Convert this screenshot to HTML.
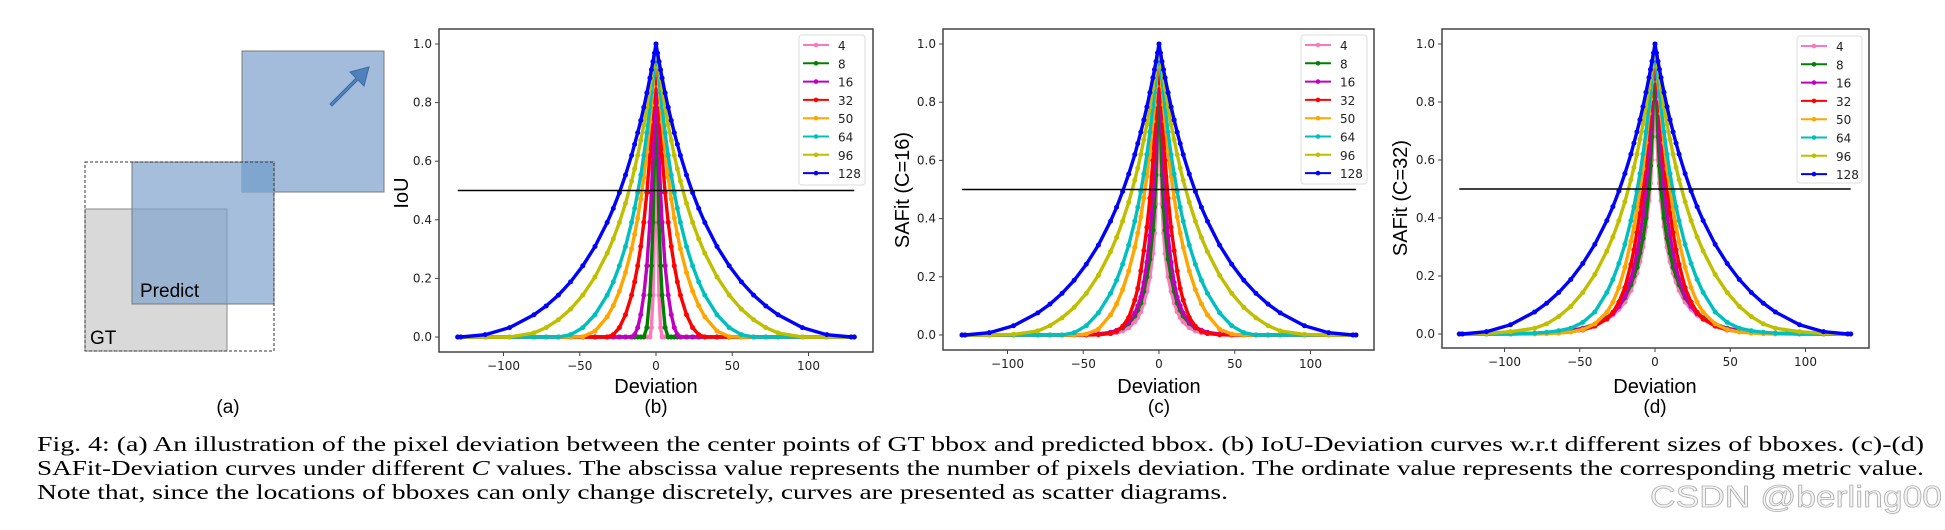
<!DOCTYPE html>
<html><head><meta charset="utf-8"><style>
html,body{margin:0;padding:0;background:#fff;}
svg{display:block;}
.tk{font-family:"DejaVu Sans",sans-serif;font-size:12px;fill:#222;}
.lab{font-family:"Liberation Sans","DejaVu Sans",sans-serif;font-size:20px;fill:#000;}
.cap{font-family:"Liberation Serif",serif;font-size:21px;fill:#000;}
</style></head><body>
<svg id="fig" width="1945" height="530" viewBox="0 0 1945 530" xmlns="http://www.w3.org/2000/svg">
<g>
  <rect x="242" y="51" width="142" height="141" fill="#a3bcdb" stroke="#7a7a7a" stroke-width="1"/>
  <polygon points="330,104 356,78 350,72 369,67 364,86 358,80 332,106" fill="#4f81bd" stroke="#3a6ea5" stroke-width="1"/>
  <rect x="85" y="209" width="142" height="142" fill="#d9d9d9" stroke="#8a8a8a" stroke-width="1"/>
  <rect x="132" y="162" width="142" height="142" fill="#7fa2cd" fill-opacity="0.7" stroke="#7a7a7a" stroke-width="1"/>
  <rect x="242" y="162" width="32" height="30" fill="#7fa6cf"/>
  <rect x="85" y="162" width="189" height="189" fill="none" stroke="#333" stroke-width="1" stroke-dasharray="3,2"/>
  <text x="140" y="297" class="lab" style="font-size:19px">Predict</text>
  <text x="90" y="344" class="lab" style="font-size:19px">GT</text>
  <text x="228" y="413" class="lab" text-anchor="middle" style="font-size:19px">(a)</text>
</g>
<g id="plots"></g>
<g>
  <text x="37" y="451" class="cap" textLength="1887" lengthAdjust="spacingAndGlyphs">Fig. 4: (a) An illustration of the pixel deviation between the center points of GT bbox and predicted bbox. (b) IoU-Deviation curves w.r.t different sizes of bboxes. (c)-(d)</text>
  <text x="37" y="475" class="cap" textLength="1887" lengthAdjust="spacingAndGlyphs">SAFit-Deviation curves under different <tspan font-style="italic">C</tspan> values. The abscissa value represents the number of pixels deviation. The ordinate value represents the corresponding metric value.</text>
  <text x="37" y="499" class="cap" textLength="1191" lengthAdjust="spacingAndGlyphs">Note that, since the locations of bboxes can only change discretely, curves are presented as scatter diagrams.</text>
  <text x="1650" y="507" font-family="Liberation Sans, sans-serif" font-size="31" fill="#f4f4f4" stroke="#b0b0b0" stroke-width="0.8" textLength="292" lengthAdjust="spacingAndGlyphs">CSDN @berling00</text>
</g>
</svg>
<script>
const sizes = ["4","8","16","32","50","64","96","128"];
const colors = ["#ff77bb","#008000","#bf00bf","#ff0000","#ffa500","#00bfbf","#bfbf00","#0000ff"];
const deviations = [0,1,2,3,4,6,8,10,12,14,16,20,24,28,32,40,48,56,64,72,80,96,112,128,130];
const xTicks = [-100,-50,0,50,100];
const yTicks = [0,0.2,0.4,0.6,0.8,1.0];
const threshold = 0.5;
// panel (b) IoU
const iouB = [
 [1,.391,.143,.032,0,0,0,0,0,0,0,0,0,0,0,0,0,0,0,0,0,0,0,0,0],
 [1,.620,.391,.243,.143,.032,0,0,0,0,0,0,0,0,0,0,0,0,0,0,0,0,0,0,0],
 [1,.784,.620,.493,.391,.243,.143,.076,.032,.008,0,0,0,0,0,0,0,0,0,0,0,0,0,0,0],
 [1,.884,.784,.697,.620,.493,.391,.309,.243,.188,.143,.076,.032,.008,0,0,0,0,0,0,0,0,0,0,0],
 [1,.924,.855,.791,.734,.632,.545,.471,.406,.350,.301,.220,.156,.107,.069,.020,.001,0,0,0,0,0,0,0,0],
 [1,.940,.884,.833,.784,.697,.620,.553,.493,.439,.391,.309,.243,.188,.143,.076,.032,.008,0,0,0,0,0,0,0],
 [1,.959,.921,.884,.849,.784,.724,.671,.620,.574,.532,.456,.391,.335,.286,.205,.143,.095,.059,.032,.014,0,0,0,0],
 [1,.969,.940,.912,.884,.833,.784,.739,.697,.658,.620,.553,.493,.439,.391,.309,.243,.188,.143,.106,.076,.032,.008,0,0]
];
// panel (c) SAFit C=16
const safitC16 = [
 [1,.62,.45,.35,.28,.20,.15,.11,.08,.06,.045,.025,.014,.008,.005,.002,.001,0,0,0,0,0,0,0,0],
 [1,.72,.55,.44,.36,.26,.20,.15,.11,.085,.065,.04,.024,.015,.009,.003,.001,0,0,0,0,0,0,0,0],
 [1,.85,.70,.58,.48,.34,.25,.18,.13,.10,.075,.045,.027,.016,.009,.003,.001,0,0,0,0,0,0,0,0],
 [1,.88,.78,.69,.60,.47,.37,.29,.22,.16,.12,.06,.03,.012,.005,.001,0,0,0,0,0,0,0,0,0],
 [1,.924,.855,.791,.734,.632,.545,.471,.406,.350,.301,.220,.156,.107,.069,.020,.003,0,0,0,0,0,0,0,0],
 [1,.940,.884,.833,.784,.697,.620,.553,.493,.439,.391,.309,.243,.188,.143,.076,.032,.008,0,0,0,0,0,0,0],
 [1,.959,.921,.884,.849,.784,.724,.671,.620,.574,.532,.456,.391,.335,.286,.205,.143,.095,.059,.032,.014,.002,0,0,0],
 [1,.969,.940,.912,.884,.833,.784,.739,.697,.658,.620,.553,.493,.439,.391,.309,.243,.188,.143,.106,.076,.032,.008,0,0]
];
// panel (d) SAFit C=32
const safitC32 = [
 [1,.72,.60,.52,.46,.37,.30,.25,.21,.18,.15,.11,.085,.065,.05,.03,.018,.011,.007,.004,.002,.001,0,0,0],
 [1,.82,.68,.58,.50,.40,.33,.28,.23,.20,.17,.125,.095,.073,.056,.034,.02,.012,.007,.004,.002,.001,0,0,0],
 [1,.90,.80,.70,.62,.50,.41,.34,.28,.23,.19,.13,.095,.07,.053,.031,.018,.011,.007,.004,.002,.001,0,0,0],
 [1,.92,.85,.78,.72,.60,.50,.42,.35,.29,.24,.16,.11,.075,.052,.027,.014,.008,.005,.003,.002,0,0,0,0],
 [1,.93,.87,.81,.76,.66,.57,.50,.43,.37,.32,.23,.16,.11,.075,.035,.015,.007,.003,.001,0,0,0,0,0],
 [1,.94,.884,.833,.784,.697,.62,.553,.493,.439,.391,.309,.243,.188,.143,.076,.04,.02,.011,.006,.003,0,0,0,0],
 [1,.959,.921,.884,.849,.784,.724,.671,.620,.574,.532,.456,.391,.335,.286,.205,.143,.095,.06,.035,.02,.008,.002,0,0],
 [1,.969,.940,.912,.884,.833,.784,.739,.697,.658,.620,.553,.493,.439,.391,.309,.243,.188,.143,.106,.076,.032,.008,0,0]
];

const NS = "http://www.w3.org/2000/svg";
const root = document.getElementById("plots");
function mk(tag, attrs, parent){const e=document.createElementNS(NS,tag);for(const k in attrs)e.setAttribute(k,attrs[k]);parent.appendChild(e);return e;}

const panels = [
 {id:"b", series:iouB, ylab:"IoU", frame:[439,29,873,352], xc:656, k:1.525, y0:337, y1:44, ylx:408, yly:193, leg:[799,35,66,150], sub:"(b)"},
 {id:"c", series:safitC16, ylab:"SAFit (C=16)", frame:[943,29,1374,350], xc:1159, k:1.515, y0:335, y1:44, ylx:909, yly:190, leg:[1301,35,66,149], sub:"(c)"},
 {id:"d", series:safitC32, ylab:"SAFit (C=32)", frame:[1442,29,1869,348], xc:1655, k:1.505, y0:334, y1:44, ylx:1407, yly:198, leg:[1797,36,65,147], sub:"(d)"}
];

panels.forEach(p=>{
  const g = mk("g",{},root);
  
  
  const xs = v => p.xc + v*p.k;
  const ys = v => p.y0 - v*(p.y0-p.y1);
  const [fx0,fy0,fx1,fy1] = p.frame;
  const fr = mk("rect",{x:fx0,y:fy0,width:fx1-fx0,height:fy1-fy0,fill:"#fff",stroke:"#444","stroke-width":1.5},g);
  
  
  xTicks.forEach(t=>{
    mk("line",{x1:xs(t),x2:xs(t),y1:fy1,y2:fy1+4,stroke:"#444"},g);
    const tx = mk("text",{x:xs(t),y:fy1+18,class:"tk","text-anchor":"middle"},g);
    tx.textContent = (t<0?"\u2212"+(-t):String(t));
    
    
  });
  yTicks.forEach(t=>{
    mk("line",{x1:fx0-4,x2:fx0,y1:ys(t),y2:ys(t),stroke:"#444"},g);
    const ty = mk("text",{x:fx0-7,y:ys(t)+4,class:"tk","text-anchor":"end"},g);
    ty.textContent = t.toFixed(1);
    
    
  });
  p.series.forEach((vals,si)=>{
    const sg = mk("g",{},g);
    
    
    const pts=[];
    for(let i=deviations.length-1;i>=0;i--) pts.push([-deviations[i],vals[i]]);
    for(let i=1;i<deviations.length;i++) pts.push([deviations[i],vals[i]]);
    const pl = mk("polyline",{points:pts.map(q=>xs(q[0]).toFixed(1)+","+ys(q[1]).toFixed(1)).join(" "),fill:"none",stroke:colors[si],"stroke-width":3.4,"stroke-linejoin":"round"},sg);
    
    
    pts.forEach(q=>{
      const c = mk("circle",{cx:xs(q[0]),cy:ys(q[1]),r:2.5,fill:colors[si]},sg);
      
      
    });
  });
  const th = mk("line",{x1:xs(-130),x2:xs(130),y1:ys(threshold),y2:ys(threshold),stroke:"#000","stroke-width":1.5},g);
  
  
  const [lx,ly,lw,lh] = p.leg;
  const lg = mk("g",{},g);
  
  
  mk("rect",{x:lx,y:ly,width:lw,height:lh,rx:3,fill:"#fff","fill-opacity":0.85,stroke:"#ddd"},lg);
  sizes.forEach((s,i)=>{
    const yy = ly+10+i*18.3;
    const e = mk("g",{},lg);
    
    
    mk("line",{x1:lx+4,x2:lx+30,y1:yy,y2:yy,stroke:colors[i],"stroke-width":2},e);
    mk("circle",{cx:lx+17,cy:yy,r:2.3,fill:colors[i]},e);
    const t = mk("text",{x:lx+39,y:yy+5,class:"tk"},e);
    t.textContent = s;
  });
  const yl = mk("text",{x:p.ylx,y:p.yly,class:"lab","text-anchor":"middle",transform:"rotate(-90 "+p.ylx+" "+p.yly+")"},g);
  yl.textContent = p.ylab;
  
  
  const xl = mk("text",{x:xs(0),y:393,class:"lab","text-anchor":"middle"},g);
  xl.textContent = "Deviation";
  
  
  const sl = mk("text",{x:xs(0),y:413,class:"lab","text-anchor":"middle",style:"font-size:19px"},g);
  sl.textContent = p.sub;
  
  
});
</script>
</body></html>
